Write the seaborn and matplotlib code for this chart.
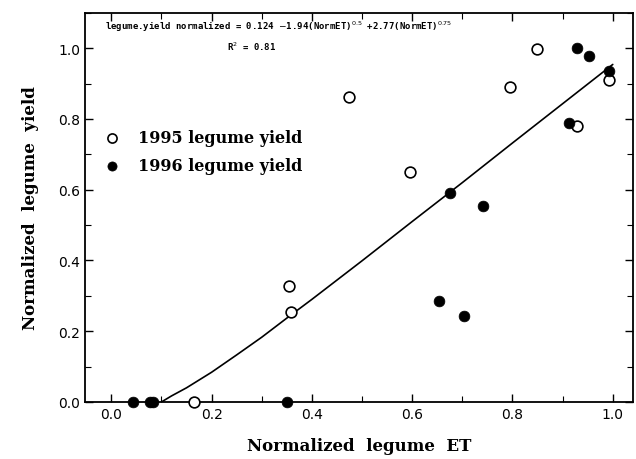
"""
Normalized legume yield vs normalized legume ET (1995 / 1996)
"""
import matplotlib
matplotlib.use("Agg")
import matplotlib.pyplot as plt
from matplotlib.ticker import MultipleLocator, FormatStrFormatter
import seaborn as sns
import pandas as pd

# ─── data ────────────────────────────────────────────────────────────────────
et_1995 = [0.165, 0.354, 0.358, 0.474, 0.595, 0.796, 0.848, 0.929, 0.993]
yield_1995 = [0.0, 0.328, 0.254, 0.862, 0.650, 0.890, 0.997, 0.780, 0.910]

et_1996 = [0.044, 0.077, 0.084, 0.350, 0.653, 0.675, 0.703, 0.742, 0.913, 0.928, 0.952, 0.993]
yield_1996 = [0.0, 0.0, 0.0, 0.0, 0.285, 0.590, 0.243, 0.554, 0.788, 1.0, 0.977, 0.935]

# fitted curve
fit_et = [0.10, 0.12, 0.15, 0.20, 0.25, 0.30, 0.35, 0.40, 0.50, 0.60, 0.70, 0.80, 0.90, 1.00]
fit_yield = [0.0, 0.017, 0.040, 0.084, 0.133, 0.183, 0.237, 0.290, 0.399, 0.510,
             0.620, 0.732, 0.843, 0.954]

EQUATION = (r"legume.yield normalized = 0.124 $-$1.94(NormET)$^{0.5}$"
            r" +2.77(NormET)$^{0.75}$")
R2_TEXT = r"R$^{2}$ = 0.81"

df95 = pd.DataFrame({"et": et_1995, "y": yield_1995})
df96 = pd.DataFrame({"et": et_1996, "y": yield_1996})
fit = pd.DataFrame({"et": fit_et, "y": fit_yield})

sns.set_style("ticks")
plt.rcParams["font.family"] = ["DejaVu Serif"]
plt.rcParams["text.color"] = "black"
plt.rcParams["axes.labelcolor"] = "black"

fig = plt.figure(figsize=(6.36, 4.6), dpi=100)
ax = fig.add_axes([0.134, 0.124, 0.861, 0.846])

sns.lineplot(data=fit, x="et", y="y", ax=ax, color="black", linewidth=1.2,
             sort=False, legend=False)
sns.scatterplot(data=df95, x="et", y="y", ax=ax, marker="o", s=60,
                facecolor="white", edgecolor="black", linewidth=1.2,
                clip_on=False, zorder=3, label="1995 legume yield")
sns.scatterplot(data=df96, x="et", y="y", ax=ax, marker="o", s=60,
                color="black", edgecolor="black", linewidth=0.5,
                clip_on=False, zorder=4, label="1996 legume yield")

ax.set_xlim(-0.052, 1.04)
ax.set_ylim(0, 1.10)
ax.xaxis.set_major_locator(MultipleLocator(0.2))
ax.xaxis.set_minor_locator(MultipleLocator(0.1))
ax.yaxis.set_major_locator(MultipleLocator(0.2))
ax.yaxis.set_minor_locator(MultipleLocator(0.1))
ax.xaxis.set_major_formatter(FormatStrFormatter("%.1f"))
ax.yaxis.set_major_formatter(FormatStrFormatter("%.1f"))
ax.tick_params(which="both", direction="in", top=True, right=True,
               colors="black", labelsize=10)
ax.tick_params(which="major", length=6, width=1)
ax.tick_params(which="minor", length=4, width=0.8)
for lab in ax.get_xticklabels() + ax.get_yticklabels():
    lab.set_family("DejaVu Sans")
for sp in ax.spines.values():
    sp.set_linewidth(1.3)
    sp.set_color("black")

ax.set_xlabel("Normalized  legume  ET", fontsize=12, fontweight="bold", labelpad=12)
ax.set_ylabel("Normalized  legume  yield", fontsize=12, fontweight="bold", labelpad=14)

ax.text(-0.012, 1.062, EQUATION, fontsize=6.5, fontweight="bold",
        family="DejaVu Sans Mono", ha="left", va="center")
ax.text(0.28, 1.006, R2_TEXT, fontsize=6.5, fontweight="bold",
        family="DejaVu Sans Mono", ha="center", va="center")

leg = ax.legend(loc="upper left", bbox_to_anchor=(0.0, 0.73), frameon=False,
                handletextpad=0.6, labelspacing=0.7, borderaxespad=0.3, markerscale=0.85,
                prop={"family": "DejaVu Serif", "weight": "bold", "size": 11.5})
for t in leg.get_texts():
    t.set_color("black")

fig.savefig("out.png", dpi=100)
